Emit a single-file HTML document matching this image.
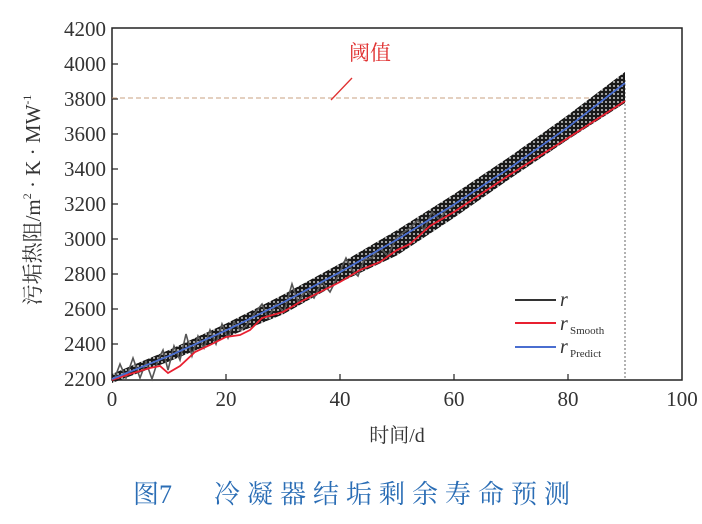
<!DOCTYPE html>
<html><head><meta charset="utf-8"><style>
body{margin:0;background:#fff;width:702px;height:519px;overflow:hidden}
text{font-family:"Liberation Serif","Noto Serif CJK SC",serif}
</style></head><body>
<svg width="702" height="519" viewBox="0 0 702 519" xmlns="http://www.w3.org/2000/svg">
<defs>
<pattern id="p" width="4" height="4" patternUnits="userSpaceOnUse">
<rect width="4" height="4" fill="#1a1a1a"/><circle cx="2" cy="2" r="1" fill="#ccc"/>
</pattern>
</defs>
<rect x="112" y="28" width="570" height="352" fill="none" stroke="#222" stroke-width="1.5"/>
<g stroke="#222" stroke-width="1.2">
<line x1="112" y1="64" x2="118" y2="64"/><line x1="112" y1="99" x2="118" y2="99"/>
<line x1="112" y1="134" x2="118" y2="134"/><line x1="112" y1="169" x2="118" y2="169"/>
<line x1="112" y1="204" x2="118" y2="204"/><line x1="112" y1="239" x2="118" y2="239"/>
<line x1="112" y1="274" x2="118" y2="274"/><line x1="112" y1="309" x2="118" y2="309"/>
<line x1="112" y1="344" x2="118" y2="344"/>
<line x1="226" y1="380" x2="226" y2="374"/><line x1="340" y1="380" x2="340" y2="374"/>
<line x1="454" y1="380" x2="454" y2="374"/><line x1="568" y1="380" x2="568" y2="374"/>
</g>
<g font-size="21" fill="#333" text-anchor="end">
<text x="106" y="36">4200</text><text x="106" y="71">4000</text><text x="106" y="106">3800</text>
<text x="106" y="141">3600</text><text x="106" y="176">3400</text><text x="106" y="211">3200</text>
<text x="106" y="246">3000</text><text x="106" y="281">2800</text><text x="106" y="316">2600</text>
<text x="106" y="351">2400</text><text x="106" y="386">2200</text>
</g>
<g font-size="21" fill="#333" text-anchor="middle">
<text x="112" y="406">0</text><text x="226" y="406">20</text><text x="340" y="406">40</text>
<text x="454" y="406">60</text><text x="568" y="406">80</text><text x="682" y="406">100</text>
</g>
<text x="397" y="442" font-size="20" fill="#333" text-anchor="middle">时间/d</text>
<text transform="translate(40,200) rotate(-90)" font-size="21" fill="#333" text-anchor="middle">污垢热阻/m<tspan font-size="12" dy="-9">2</tspan><tspan dy="9"> · K · MW</tspan><tspan font-size="12" dy="-9">-1</tspan></text>
<line x1="112" y1="98" x2="625" y2="98" stroke="#c9a080" stroke-width="1" stroke-dasharray="5,3"/>
<line x1="625" y1="80" x2="625" y2="380" stroke="#666" stroke-width="1" stroke-dasharray="2,2"/>
<text x="370" y="60" font-size="21" fill="#e03030" text-anchor="middle">阈值</text>
<line x1="352" y1="78" x2="331" y2="100" stroke="#e03030" stroke-width="1.3"/>
<path d="M112,374 L169,350 L226,323.6 L283,294.8 L340,263.6 L397,230.1 L454,194.1 L511,155.8 L568,115.0 L625,71.9 L625,103 L568,139.6 L511,178 L454,217.8 L397,255.4 L340,282.4 L283,314.4 L226,337.5 L169,361.5 L112,383 Z" fill="url(#p)"/>
<path d="M114,380 L120,364 L126,378 L133,358 L140,378 L146,362 L152,379 L158,360 L163,350 L168,370 L174,346 L180,360 L186,334 L192,356 L198,336 L204,348 L210,330 L216,344 L222,324 L228,338 L234,322 L240,330 L246,326 L254,314 L262,304 L268,318 L276,304 L284,312 L292,284 L298,302 L306,290 L314,298 L322,282 L330,292 L338,276 L346,258 L352,270 L358,276 L364,260 L372,258 L380,248 L388,256 L396,238 L404,232 L410,228 L418,220 L424,230 L432,212 L440,220 L446,210 L454,206" fill="none" stroke="#555" stroke-width="1.6"/>
<path d="M112,380 L130,374 L150,368 L160,366 L168,373 L180,366 L195,352 L210,345 L226,337 L240,335 L250,330 L262,318 L283,312 L300,302 L320,292 L340,282 L360,270 L380,262 L397,250 L410,244 L430,226 L454,212 L511,174 L568,138 L625,101" fill="none" stroke="#e82030" stroke-width="1.8"/>
<path d="M112,379 L169,355.9 L226,330.4 L283,302.5 L340,272.2 L397,239.6 L454,204.5 L511,167.1 L568,127.2 L625,83" fill="none" stroke="#4a6ed0" stroke-width="1.8"/>
<line x1="515" y1="300" x2="556" y2="300" stroke="#333" stroke-width="2"/>
<line x1="515" y1="323" x2="556" y2="323" stroke="#e82030" stroke-width="2"/>
<line x1="515" y1="347" x2="556" y2="347" stroke="#4a6ed0" stroke-width="2"/>
<text x="560" y="306" font-size="20" font-style="italic" fill="#333">r</text>
<text x="560" y="330" font-size="20" font-style="italic" fill="#333">r</text><text x="570" y="334" font-size="11" fill="#333">Smooth</text>
<text x="560" y="353" font-size="20" font-style="italic" fill="#333">r</text><text x="570" y="357" font-size="11" fill="#333">Predict</text>
<text x="133" y="503" font-size="26" fill="#2a6db5">图7</text>
<text x="214" y="503" font-size="26" fill="#2a6db5" letter-spacing="7">冷凝器结垢剩余寿命预测</text>
</svg>
</body></html>
